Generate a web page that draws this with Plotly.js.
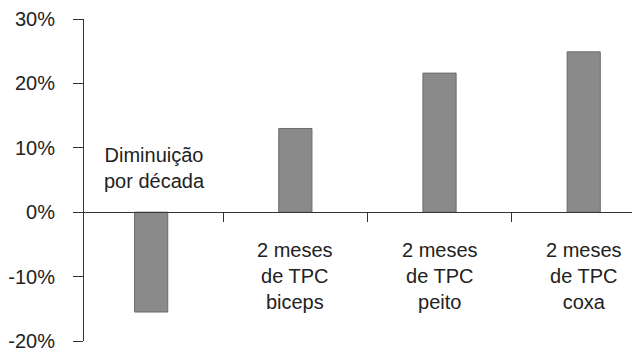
<!DOCTYPE html>
<html>
<head>
<meta charset="utf-8">
<script src="https://cdn.plot.ly/plotly-3.0.1.min.js"></script>
<style>html,body{margin:0;padding:0;background:#fff;}#chart{width:632px;height:354px;}</style>
</head>
<body>
<div id="chart"></div>
<script>
const categories = ["Diminuição<br>por década", "2 meses<br>de TPC<br>biceps", "2 meses<br>de TPC<br>peito", "2 meses<br>de TPC<br>coxa"];
const values = [-15.5, 13.0, 21.6, 24.9];
const yTicks = [-20, -10, 0, 10, 20, 30];

const trace = {
  type: 'bar',
  x: categories,
  y: values,
  width: 0.23,
  marker: { color: '#8a8a8a', line: { color: '#6a6a6a', width: 1 } },
  hoverinfo: 'none'
};

const annotations = categories.map((c, i) => ({
  x: c, y: 0, xref: 'x', yref: 'y',
  text: c,
  showarrow: false,
  xanchor: 'center',
  yanchor: values[i] < 0 ? 'bottom' : 'top',
  yshift: values[i] < 0 ? 18 : -25,
  xshift: i === 0 ? 3 : 0,
  font: { family: 'Liberation Sans, Arial, sans-serif', size: 20, color: '#222' },
  align: 'center'
}));

const layout = {
  width: 632, height: 354,
  margin: { l: 84, r: 0, t: 19, b: 13 },
  paper_bgcolor: '#fff', plot_bgcolor: '#fff',
  showlegend: false,
  font: { family: 'Liberation Sans, Arial, sans-serif', color: '#222' },
  xaxis: {
    type: 'category',
    range: [-0.466, 3.335],
    anchor: 'free', position: 0.4,
    showline: true, linecolor: '#333', linewidth: 1,
    ticks: 'outside', tickson: 'boundaries', ticklen: 9, tickcolor: '#333', tickwidth: 1,
    showticklabels: false, showgrid: false, zeroline: false, fixedrange: true
  },
  yaxis: {
    range: [-20, 30],
    tickvals: yTicks,
    ticktext: yTicks.map(v => v + '%'),
    showline: true, linecolor: '#333', linewidth: 1,
    ticks: 'outside', ticklen: 10, tickcolor: '#333', tickwidth: 1,
    ticklabelstandoff: 14,
    tickfont: { size: 20, color: '#222' },
    showgrid: false, zeroline: false, fixedrange: true
  },
  annotations: annotations
};

Plotly.newPlot('chart', [trace], layout, { staticPlot: true, displayModeBar: false });
</script>
</body>
</html>
